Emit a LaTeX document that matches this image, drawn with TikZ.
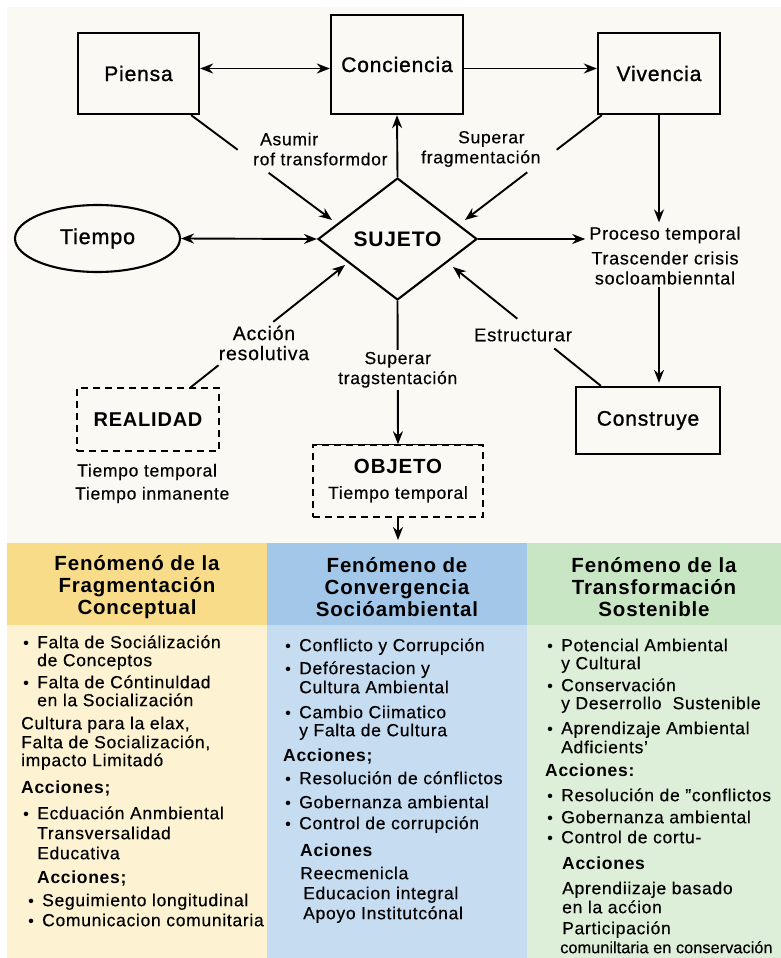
\documentclass[tikz,border=0pt]{standalone}
\usepackage{fontspec}
\setmainfont{Liberation Sans}[LetterSpace=4, UprightFeatures={FakeBold=0.35}]
\newfontfamily\medfont{Liberation Sans}[LetterSpace=4,FakeBold=1.1]
\newfontfamily\tightfont{Liberation Sans}[LetterSpace=0,FakeBold=0.35]
\usetikzlibrary{shapes.geometric,arrows.meta,calc}

\definecolor{paper}{HTML}{FAF9F4}
\definecolor{yhead}{HTML}{F8DC8A}
\definecolor{ybody}{HTML}{FDF2D2}
\definecolor{bhead}{HTML}{A2C7E9}
\definecolor{bbody}{HTML}{C6DCF1}
\definecolor{ghead}{HTML}{C8E6C4}
\definecolor{gbody}{HTML}{DDEFD8}

\newcommand\fs[2]{\fontsize{#1}{#2}\selectfont}
\newcommand\bul{\makebox[14pt][l]{\fs{16}{16}•}}

\begin{document}
\begin{tikzpicture}[x=1pt,y=-1pt,
  box/.style={draw=black, line width=2.3pt, inner sep=0pt, font=\medfont\fs{21}{24}},
  dbox/.style={draw=black, line width=1.5pt, dash pattern=on 7pt off 5pt, inner sep=0pt},
  conn/.style={line width=1.9pt},
  tip/.style={-{Stealth[length=13pt,width=10pt]}},
  dtip/.style={{Stealth[length=13pt,width=10pt]}-{Stealth[length=13pt,width=10pt]}},
  lbl/.style={font=\fs{17.5}{20}, align=center, inner sep=2pt},
  hdr/.style={font=\bfseries\fs{20.5}{22}, align=center, inner sep=0pt},
  body/.style={font=\fs{17.5}{18}, align=left, inner sep=0pt, anchor=north west}
]
\useasboundingbox (0,0) rectangle (781,958);

% page and column backgrounds
\fill[white] (0,0) rectangle (781,958);
\fill[paper] (7,7) rectangle (781,958);
\fill[yhead] (7,543) rectangle (267,625);
\fill[bhead] (267,543) rectangle (527,625);
\fill[ghead] (527,543) rectangle (781,625);
\fill[ybody] (7,625) rectangle (267,958);
\fill[bbody] (267,625) rectangle (527,958);
\fill[gbody] (527,625) rectangle (781,958);
\coordinate (paneltop) at (397,543);

% column headers
\node[hdr] (h1) at (137,587) {Fenómenó de la\\Fragmentación\\Conceptual};
\node[hdr] (h2) at (397,587) {Fenómeno de\\Convergencia\\Socióambiental};
\node[hdr] (h3) at (654,587) {Fenómeno de la\\Transformación\\Sostenible};

% column contents
\node[body] (b1) at (21,632) {\rule{0pt}{16pt}\hspace*{2pt}\bul Falta de Sociálización\\
\hspace*{16pt}de Conceptos\\[4pt]
\hspace*{2pt}\bul Falta de Cóntinuldad\\
\hspace*{16pt}en la Socialización\\[5pt]
Cultura para la elax,\\[1pt]
Falta de Socialización,\\
impacto Limitadó\\[9pt]
\textbf{Acciones;}\\[8pt]
\hspace*{2pt}\bul Ecduación Anmbiental\\[2pt]
\hspace*{16pt}Transversalidad\\[2pt]
\hspace*{16pt}Educativa\\[6pt]
\hspace*{16pt}\textbf{Acciones;}\\[5pt]
\hspace*{7pt}\bul Seguimiento longitudinal\\[2pt]
\hspace*{7pt}\bul Comunicacion comunitaria};

\node[body] (b2) at (283,635) {\rule{0pt}{16pt}\hspace*{2pt}\bul Conflicto y Corrupción\\[5pt]
\hspace*{2pt}\bul Defórestacion y\\[1pt]
\hspace*{16pt}Cultura Ambiental\\[7pt]
\hspace*{2pt}\bul Cambio Ciimatico\\
\hspace*{16pt}y Falta de Cultura\\[7pt]
\textbf{Acciones;}\\[5pt]
\hspace*{2pt}\bul Resolución de cónflictos\\[6pt]
\hspace*{2pt}\bul Gobernanza ambiental\\[3pt]
\hspace*{2pt}\bul Control de corrupción\\[9pt]
\hspace*{17pt}\textbf{Aciones}\\[5pt]
\hspace*{17pt}Reecmenicla\\[2pt]
\hspace*{20pt}Educacion integral\\[2pt]
\hspace*{20pt}Apoyo Institutcónal};

\node[body] (b3) at (545,635) {\rule{0pt}{16pt}\hspace*{2pt}\bul Potencial Ambiental\\
\hspace*{16pt}y Cultural\\[4pt]
\hspace*{2pt}\bul Conservación\\
\hspace*{16pt}y Deserrollo\ \ Sustenible\\[7pt]
\hspace*{2pt}\bul Aprendizaje Ambiental\\[1pt]
\hspace*{16pt}Adficients’\\[5pt]
\textbf{Acciones:}\\[7pt]
\hspace*{2pt}\bul Resolución de "conflictos\\[4pt]
\hspace*{2pt}\bul Gobernanza ambiental\\[2pt]
\hspace*{2pt}\bul Control de cortu-\\[8pt]
\hspace*{17pt}\textbf{Acciones}\\[7pt]
\hspace*{17pt}Aprendiizaje basado\\[1pt]
\hspace*{17pt}en la acćion\\[3pt]
\hspace*{17pt}Participación\\[1pt]
\hspace*{15pt}{\tightfont\fs{16.4}{18}comuniltaria en conservación}};

% concept nodes
\node[box, minimum width=121pt, minimum height=81pt] (piensa) at (138.5,73.5) {Piensa};
\node[box, minimum width=132pt, minimum height=99pt] (conciencia) at (397,64.5) {Conciencia};
\node[box, minimum width=122pt, minimum height=81pt] (vivencia) at (659,73.5) {Vivencia};
\node[box, minimum width=144pt, minimum height=67pt] (construye) at (648,420.5) {Construye};
\node[draw=black, line width=2.1pt, ellipse, inner sep=0pt, minimum width=165pt,
      minimum height=67pt, font=\medfont\fs{21.5}{24}] (tiempo) at (97.5,238.5) {Tiempo};
\node[draw=black, line width=2.1pt, diamond, inner sep=0pt, minimum width=159pt,
      minimum height=122pt, font=\bfseries\fs{21}{24}] (sujeto) at (397.5,239) {SUJETO};
\node[dbox, minimum width=142pt, minimum height=63pt, font=\bfseries\fs{20}{24}] (realidad) at (148,419.5) {REALIDAD};
\node[lbl, font=\fs{17.5}{23}, align=left, anchor=west, inner sep=0pt] (realtxt) at (75,483.5)
  {\hspace*{2pt}Tiempo temporal\\Tiempo inmanente};
\node[dbox, minimum width=170pt, minimum height=72pt, align=center, font=\fs{17.5}{25}] (objeto) at (398,481)
  {{\bfseries\fs{20.5}{25}OBJETO}\\Tiempo temporal};
\draw[line width=1.5pt] (objeto.north west) -- (objeto.north east);

\node[lbl, font=\fs{18}{20}, inner sep=4pt] (proc) at (665,235) {Proceso temporal};
\node[lbl, font=\fs{18}{20}] (trasc) at (665,268) {Trascender crisis\\socloambienntal};

% connector labels
\node[lbl, align=left, anchor=west, inner sep=0pt] (lasumir) at (253,149) {\hspace*{7pt}Asumir\\rof transformdor};
\node[lbl, align=left, anchor=west, inner sep=0pt] (lsuperar) at (421,149) {\hspace*{37pt}Superar\\fragmentación};
\node[lbl, font=\fs{19.5}{20}] (laccion) at (264,343) {Acción\\resolutiva};
\node[lbl, font=\fs{18.5}{20}] (lestr) at (523,335) {Estructurar};

% straight connectors
\draw[conn,dtip] ([yshift=5pt]piensa.east) -- ([yshift=5pt]piensa.east -| conciencia.west);
\draw[conn,tip] ([yshift=5pt]piensa.east -| conciencia.east) -- ([yshift=5pt]piensa.east -| vivencia.west);
\draw[conn,tip] (sujeto.north) -- (conciencia.south);
\draw[conn,dtip] (tiempo.east) -- (sujeto.west);
\draw[conn,tip] (sujeto.east) -- (sujeto.east -| proc.west);
\draw[conn,tip] (vivencia.south) -- (vivencia.south |- proc.north);
\draw[conn,tip] (vivencia.south |- trasc.south) -- ([yshift=3pt]vivencia.south |- construye.north);
\draw[conn,tip] (sujeto.south) -- node[lbl, fill=paper, pos=0.48] (ltrag) {Superar\\tragstentación} (objeto.north);
\draw[conn,tip] (objeto.south) -- ([yshift=3pt]objeto.south |- paneltop);

% diagonal connectors interrupted by their labels
\coordinate (psA) at ($(piensa.south east)+(-9,0)$);
\coordinate (psB) at (332,220);
\draw[conn] (psA) -- ($(psA)!0.33!(psB)$);
\draw[conn,tip] ($(psA)!0.55!(psB)$) -- (psB);

\coordinate (vsA) at ($(vivencia.south west)+(5,0)$);
\coordinate (vsB) at (465,220);
\draw[conn] (vsA) -- ($(vsA)!0.33!(vsB)$);
\draw[conn,tip] ($(vsA)!0.545!(vsB)$) -- (vsB);

\coordinate (esA) at ($(construye.north west)+(26,0)$);
\coordinate (esB) at (453,267);
\draw[conn] (esA) -- ($(esA)!0.315!(esB)$);
\draw[conn,tip] ($(esA)!0.565!(esB)$) -- (esB);

\coordinate (asA) at ($(realidad.north east)+(-29,0)$);
\coordinate (asB) at (345,265);
\draw[conn] (asA) -- ($(asA)!0.18!(asB)$);
\draw[conn,tip] ($(asA)!0.535!(asB)$) -- (asB);
\end{tikzpicture}
\end{document}
